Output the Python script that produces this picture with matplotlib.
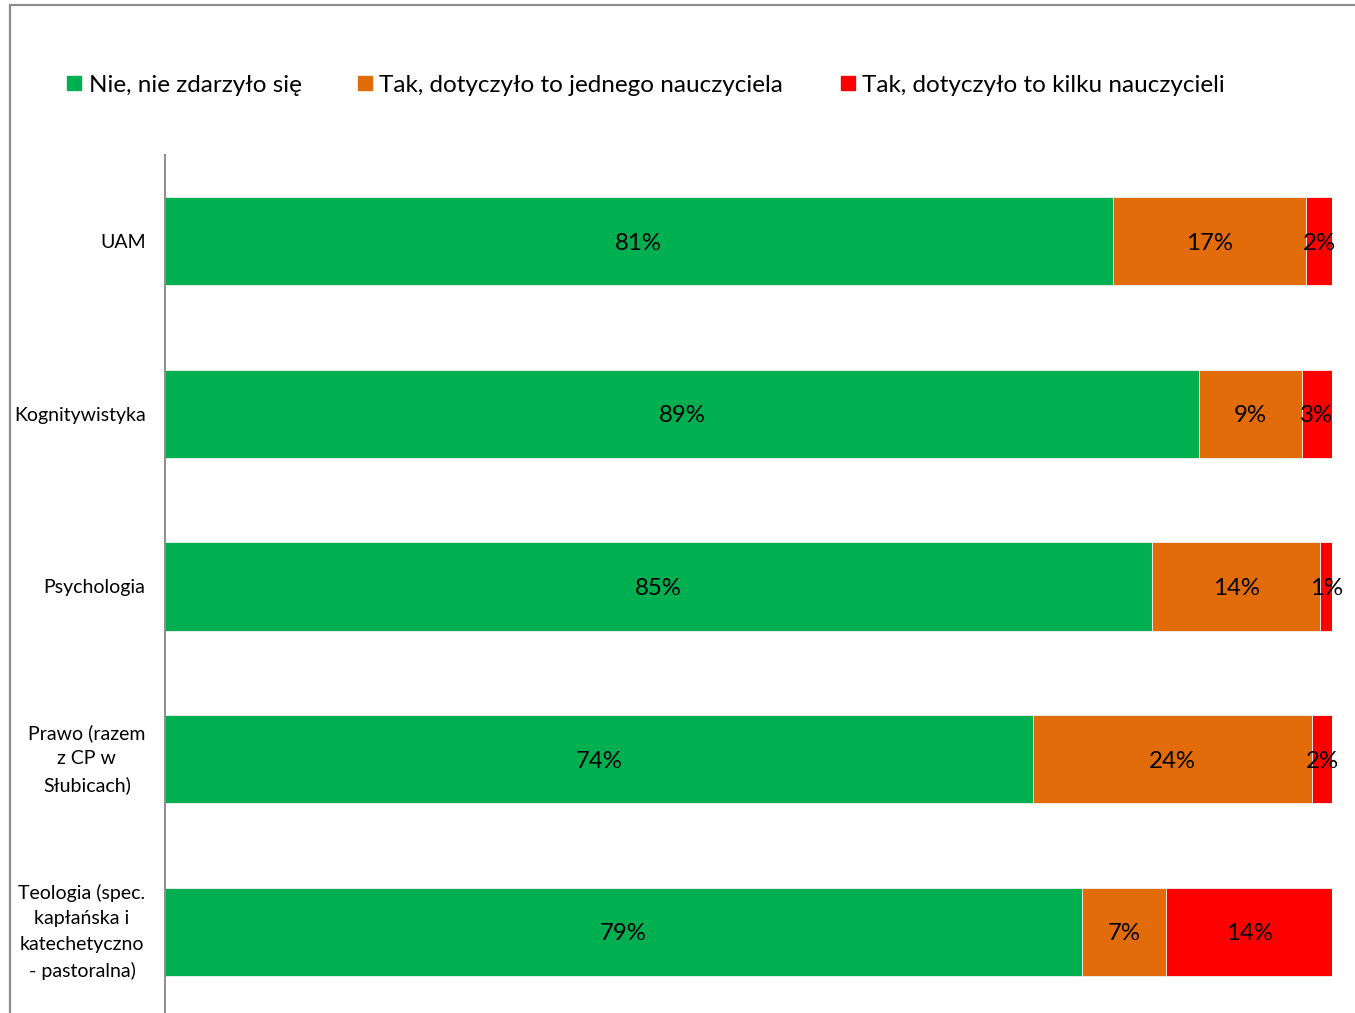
import matplotlib
matplotlib.use("Agg")
import matplotlib.pyplot as plt
from matplotlib.patches import Rectangle

plt.rcParams['font.family'] = ['Lato', 'DejaVu Sans']

categories = ["UAM", "Kognitywistyka", "Psychologia",
              "Prawo (razem\nz CP w\nSłubicach)",
              "Teologia (spec.\nkapłańska i\nkatechetyczno\n- pastoralna)"]
series_names = ["Nie, nie zdarzyło się",
                "Tak, dotyczyło to jednego nauczyciela",
                "Tak, dotyczyło to kilku nauczycieli"]
nie = [81.2, 88.6, 84.6, 74.4, 78.6]
jeden = [16.6, 8.8, 14.4, 23.9, 7.2]
kilku = [2.2, 2.6, 1.0, 1.7, 14.2]
colors = ["#00B050", "#E36C0A", "#FF0000"]

W, H = 1355, 1013
fig = plt.figure(figsize=(W / 100, H / 100), dpi=100)

# outer chart border (cropped on right/bottom)
fig.patches.append(Rectangle((10 / W, -0.05), 1.2, 1 - 5 / H + 0.05,
                             transform=fig.transFigure, fill=False,
                             edgecolor="#8c8c8c", linewidth=1.6))

ax_left, ax_right = 165 / W, 1332 / W
ax_top = 1 - 155 / H
band = 172.6
ax_bottom = 1 - (155 + 5 * band) / H
ax = fig.add_axes([ax_left, ax_bottom, ax_right - ax_left, ax_top - ax_bottom])

y = list(range(len(categories)))
left = [0] * len(categories)
for vals, col in zip([nie, jeden, kilku], colors):
    ax.barh(y, vals, left=left, height=0.51, color=col,
            edgecolor="#f0f0f0", linewidth=0.6)
    for yi, l, v in zip(y, left, vals):
        ax.text(l + v / 2, yi, f"{v:.0f}%", ha="center", va="center_baseline",
                fontsize=17.3, color="black")
    left = [a + b for a, b in zip(left, vals)]

ax.set_xlim(0, 100)
ax.set_ylim(len(categories) - 0.5, -0.5)
ax.set_yticks(y)
ax.set_yticklabels(categories, fontsize=14, ha="right", multialignment="center",
                   linespacing=1.6)
for lab, cat in zip(ax.get_yticklabels(), categories):
    if "\n" in cat:
        lab.set_va("center")
ax.tick_params(axis="y", length=0, pad=14)
ax.set_xticks([])
for s in ["top", "right", "bottom"]:
    ax.spines[s].set_visible(False)
ax.spines["left"].set_color("#8c8c8c")
ax.spines["left"].set_linewidth(1.4)

# legend
leg_sq = [67, 358, 841]
leg_tx = [89, 379, 862]
leg_y = 83
for sx, tx, name, col in zip(leg_sq, leg_tx, series_names, colors):
    fig.patches.append(Rectangle((sx / W, 1 - 90 / H), 14 / W, 14 / H,
                                 transform=fig.transFigure, color=col))
    fig.text(tx / W, 1 - leg_y / H, name, fontsize=17.5, va="center_baseline",
             ha="left")

fig.savefig("out.png", dpi=100)
